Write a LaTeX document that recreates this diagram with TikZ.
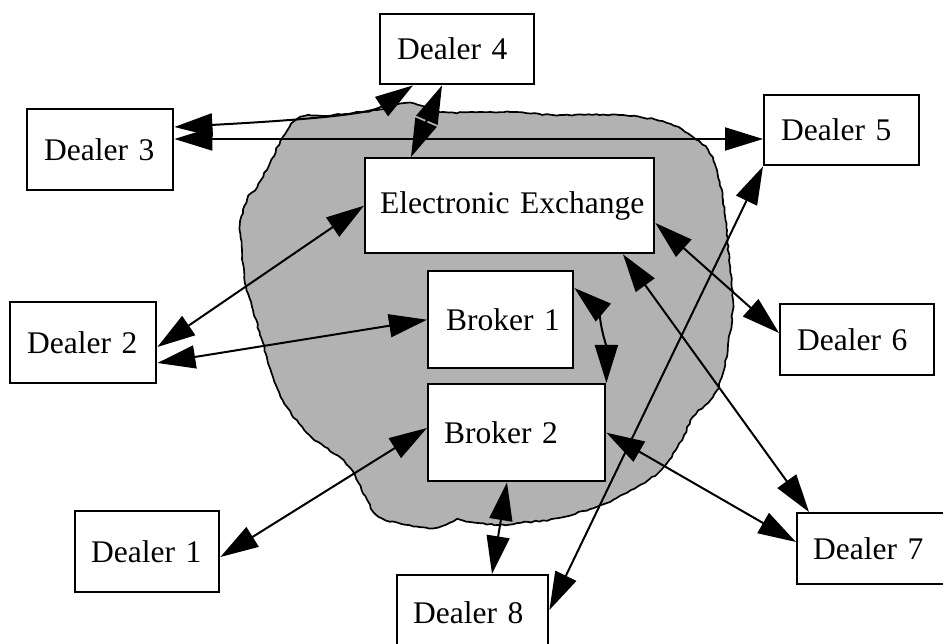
\documentclass[tikz,border=0pt]{standalone}
\usepackage{fontspec}
\setmainfont{Liberation Serif}
\usetikzlibrary{arrows.meta,calc,decorations.pathmorphing}
\begin{document}
\begin{tikzpicture}[x=1pt,y=-1pt,
  box/.style={draw, fill=white, line width=2.4pt, anchor=north west, align=left,
    inner xsep=17pt, inner ysep=0pt, font=\fontsize{31.5}{36}\selectfont},
  link/.style={line width=2pt,
    {Triangle[length=38pt,width=23pt]}-{Triangle[length=38pt,width=23pt]}},
  blob/.style={fill=black!30, draw=black, line width=1.7pt, line join=round,
    decorate, decoration={random steps, segment length=4pt, amplitude=0.8pt}}
]
\useasboundingbox (0,0) rectangle (943,644);
\clip (0,0) rectangle (943,644);

% shaded market area
\draw[blob] plot[smooth cycle, tension=0.6] coordinates {
 (300,117) (333,115) (377,110) (410,103) (440,112) (480,112) (510,112)
 (560,115) (623,115) (667,123) (693,137) (708,150) (717,170) (723,200)
 (727,230) (729,260) (733,300) (730,333) (723,373) (713,397) (693,417)
 (682,440) (661,470) (631,490) (601,505) (559,518) (529,522) (499,525)
 (470,522) (457,520) (433,528) (409,525) (379,517) (367,500) (349,467)
 (325,447) (307,433) (287,407) (273,377) (263,343) (253,310) (245,283)
 (242,250) (240,225) (247,200) (257,187) (270,163) (283,137)};

% boxes
\node[box, text width=112pt, minimum height=81pt] (d3) at (26,108) {\mbox{Dealer 3}};
\node[box, text width=120pt, minimum height=70pt] (d4) at (379,13) {\mbox{Dealer 4}};
\node[box, text width=121pt, minimum height=70pt] (d5) at (763,94) {\mbox{Dealer 5}};
\node[box, inner xsep=15pt, text width=259pt, minimum height=95pt] (ex) at (364,157) {\mbox{Electronic Exchange}};
\node[box, text width=112pt, minimum height=81pt] (d2) at (9,301) {\mbox{Dealer 2}};
\node[box, inner xsep=18pt, text width=109pt, minimum height=97pt] (b1) at (427,270) {\mbox{Broker 1}};
\node[box, text width=120pt, minimum height=71pt] (d6) at (779,303) {\mbox{Dealer 6}};
\node[box, inner xsep=16pt, text width=145pt, minimum height=97pt] (b2) at (427,383) {\mbox{Broker 2}};
\node[box, inner xsep=16pt, text width=112pt, minimum height=81pt] (d1) at (74,510) {\mbox{Dealer 1}};
\node[box, inner xsep=16pt, text width=117pt, minimum height=71pt] (d7) at (796,512) {\mbox{Dealer 7}};
\node[box, inner xsep=16pt, text width=119pt, minimum height=76pt] (d8) at (396,574) {\mbox{Dealer 8}};

% connectors
\draw[link] ($(d3.north east)+(0,19)$) .. controls ($(d3.north east)+(128,12)$) and ($(d4.south west)+(-9,29)$) .. ($(d4.south west)+(34,0)$);
\draw[link] ($(d3.north east)+(0,31)$) -- ($(d5.north west)+(0,45)$);
\draw[link] ($(d4.south west)+(63,0)$) -- ($(ex.north west)+(47,0)$);
\draw[link] (ex.west) -- ($(d2.north east)+(0,46)$);
\draw[link] ($(d2.north east)+(0,62)$) -- (b1.west);
\draw[link] ($(b1.north east)+(0,18)$) .. controls ($(b1.north east)+(20,35)$) and ($(b2.north east)+(0,-35)$) .. (b2.north east);
\draw[link] ($(ex.north east)+(0,66)$) -- ($(d6.north west)+(0,30)$);
\draw[link] ($(ex.south west)+(259,0)$) -- ($(d7.north west)+(13,0)$);
\draw[link] ($(b2.north west)+(0,45)$) -- ($(d1.north east)+(0,47)$);
\draw[link] ($(b2.south west)+(80,0)$) -- ($(d8.north west)+(96,0)$);
\draw[link] (b2.east) -- ($(d7.north west)+(0,30)$);
\draw[link] (d5.south west) -- ($(d8.north east)+(0,36)$);
\end{tikzpicture}
\end{document}
